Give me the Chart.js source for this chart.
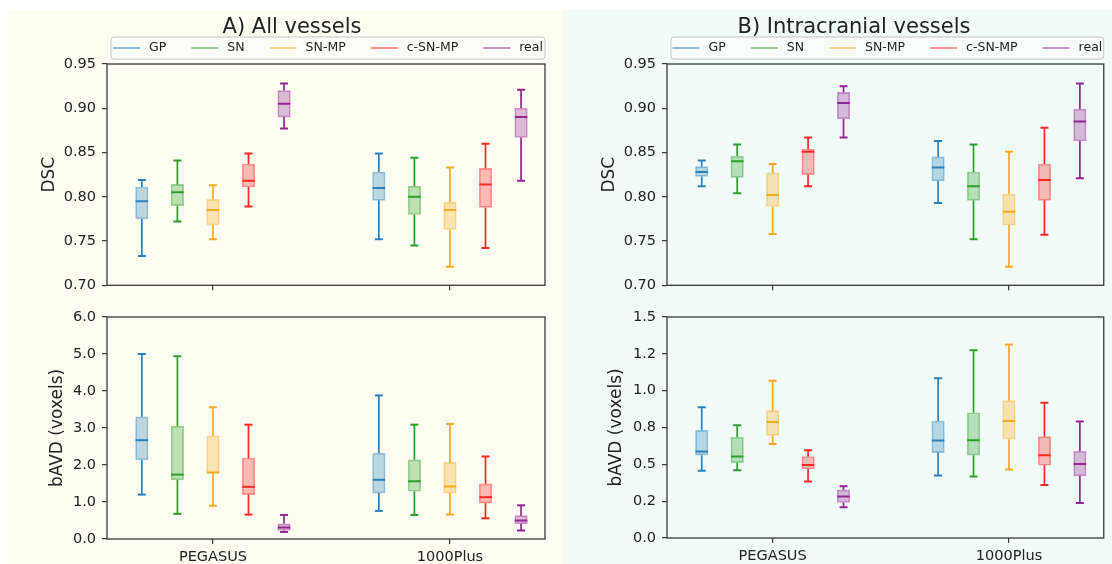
<!DOCTYPE html>
<html>
<head>
<meta charset="utf-8">
<script src="https://cdn.jsdelivr.net/npm/chart.js@4.4.1/dist/chart.umd.min.js"></script>
<style>
  body { margin: 0; background: #fff; }
  #wrap { position: relative; width: 1112px; height: 564px; overflow: hidden; }
  .bg { position: absolute; top: 10px; height: 554px; }
  #bgA { left: 8px; width: 555px; background: #fdfdf1; }
  #bgB { left: 563px; width: 549px; background: #f1fbf7; }
  canvas { position: absolute; }
</style>
</head>
<body>
<div id="wrap">
  <div class="bg" id="bgA"></div>
  <div class="bg" id="bgB"></div>
  <canvas id="c1" width="556" height="300" style="left:0;top:0"></canvas>
  <canvas id="c2" width="556" height="264" style="left:0;top:300px"></canvas>
  <canvas id="c3" width="556" height="300" style="left:556px;top:0"></canvas>
  <canvas id="c4" width="556" height="264" style="left:556px;top:300px"></canvas>
</div>
<script>
const groups = ["PEGASUS", "1000Plus"];
const series = ["GP", "SN", "SN-MP", "c-SN-MP", "real"];
const colors = ["#2a80bd", "#2c9e2c", "#ffa81a", "#ff2626", "#922592"];

// five-number summaries [min, q1, median, q3, max], PEGASUS then 1000Plus
const dscAll = [
  [[0.733, 0.775, 0.795, 0.811, 0.819], [0.752, 0.796, 0.810, 0.828, 0.849]],
  [[0.772, 0.790, 0.805, 0.814, 0.841], [0.745, 0.780, 0.800, 0.812, 0.844]],
  [[0.752, 0.768, 0.785, 0.797, 0.813], [0.721, 0.763, 0.785, 0.794, 0.833]],
  [[0.789, 0.811, 0.818, 0.837, 0.849], [0.742, 0.788, 0.814, 0.832, 0.860]],
  [[0.877, 0.890, 0.905, 0.920, 0.928], [0.818, 0.867, 0.890, 0.900, 0.921]]
];
const bavdAll = [
  [[1.20, 2.14, 2.67, 3.30, 5.00], [0.76, 1.24, 1.60, 2.32, 3.88]],
  [[0.68, 1.60, 1.74, 3.05, 4.94], [0.65, 1.29, 1.56, 2.14, 3.09]],
  [[0.90, 1.77, 1.80, 2.79, 3.56], [0.66, 1.24, 1.42, 2.07, 3.11]],
  [[0.66, 1.20, 1.41, 2.19, 3.09], [0.56, 0.97, 1.13, 1.49, 2.23]],
  [[0.19, 0.23, 0.31, 0.41, 0.65], [0.23, 0.41, 0.50, 0.63, 0.91]]
];
const dscIc = [
  [[0.812, 0.823, 0.828, 0.834, 0.841], [0.793, 0.818, 0.833, 0.845, 0.863]],
  [[0.804, 0.822, 0.840, 0.846, 0.859], [0.752, 0.796, 0.812, 0.828, 0.859]],
  [[0.758, 0.789, 0.802, 0.827, 0.837], [0.721, 0.768, 0.783, 0.803, 0.851]],
  [[0.812, 0.825, 0.851, 0.854, 0.867], [0.757, 0.796, 0.819, 0.837, 0.878]],
  [[0.867, 0.888, 0.906, 0.918, 0.925], [0.821, 0.863, 0.885, 0.899, 0.928]]
];
const bavdIc = [
  [[0.456, 0.562, 0.587, 0.731, 0.887], [0.424, 0.580, 0.661, 0.794, 1.085]],
  [[0.460, 0.512, 0.553, 0.684, 0.765], [0.417, 0.562, 0.663, 0.850, 1.275]],
  [[0.638, 0.697, 0.787, 0.864, 1.067], [0.465, 0.670, 0.794, 0.932, 1.313]],
  [[0.384, 0.469, 0.496, 0.553, 0.596], [0.359, 0.494, 0.562, 0.688, 0.918]],
  [[0.208, 0.241, 0.282, 0.327, 0.352], [0.237, 0.422, 0.503, 0.589, 0.790]]
];

const dscTickValues = [0.70, 0.75, 0.80, 0.85, 0.90, 0.95];
const dscTickLabels = ["0.70", "0.75", "0.80", "0.85", "0.90", "0.95"];
const bavdAllTickValues = [0, 1, 2, 3, 4, 5, 6];
const bavdAllTickLabels = ["0.0", "1.0", "2.0", "3.0", "4.0", "5.0", "6.0"];
const bavdIcTickValues = [0, 0.25, 0.5, 0.75, 1.0, 1.25, 1.5];
const bavdIcTickLabels = ["0.0", "0.2", "0.5", "0.8", "1.0", "1.2", "1.5"];

const offsets = [-0.3, -0.15, 0, 0.15, 0.3];
const FONT = "DejaVu Sans";
const TEXT = "#222";
const AXIS = "#3a3a3a";

function rgba(hex, a) {
  const n = parseInt(hex.slice(1), 16);
  return `rgba(${n >> 16}, ${(n >> 8) & 255}, ${n & 255}, ${a})`;
}

function buildDatasets(stats) {
  const ds = [];
  series.forEach((name, s) => {
    const c = colors[s];
    const pts = stats[s].map((v, g) => ({ x: g + offsets[s], v }));
    ds.push({
      type: "bar", label: name + " whiskers",
      data: pts.map(p => ({ x: p.x, y: [p.v[0], p.v[1]] }))
        .concat(pts.map(p => ({ x: p.x, y: [p.v[3], p.v[4]] }))),
      backgroundColor: c, borderWidth: 0, barThickness: 1.7, inflateAmount: 0,
      grouped: false, order: 3
    });
    ds.push({
      type: "bar", label: name,
      data: pts.map(p => ({ x: p.x, y: [p.v[1], p.v[3]] })),
      backgroundColor: rgba(c, 0.3), borderColor: rgba(c, 0.45), borderWidth: 1,
      borderSkipped: false, barThickness: 12.5, grouped: false, order: 2
    });
    ds.push({
      type: "scatter", label: name + " caps",
      data: pts.map(p => ({ x: p.x, y: p.v[0] })).concat(pts.map(p => ({ x: p.x, y: p.v[4] }))),
      pointStyle: "line", pointRadius: 4, pointBorderColor: c, pointBorderWidth: 2, order: 1
    });
    ds.push({
      type: "scatter", label: name + " median",
      data: pts.map(p => ({ x: p.x, y: p.v[2] })),
      pointStyle: "line", pointRadius: 6.25, pointBorderColor: c, pointBorderWidth: 2, order: 0
    });
  });
  return ds;
}

const frame = {
  id: "frame",
  afterDatasetsDraw(chart) {
    const { ctx, chartArea: a } = chart;
    ctx.save();
    ctx.strokeStyle = AXIS;
    ctx.lineWidth = 1.3;
    ctx.strokeRect(a.left, a.top, a.right - a.left, a.bottom - a.top);
    ctx.restore();
  }
};

// legend box above the plot area, like the matplotlib one
const boxLegend = {
  id: "boxLegend",
  afterDraw(chart, args, opts) {
    if (!opts.show) return;
    const { ctx, chartArea: a } = chart;
    ctx.save();
    ctx.font = `12.5px "${FONT}"`;
    const widths = series.map(s => ctx.measureText(s).width);
    const lineLen = 27, gap = 9, itemGap = 25;
    const total = widths.reduce((t, w) => t + lineLen + gap + w, 0) + itemGap * (series.length - 1);
    const left = a.left + 4, right = a.right, top = a.top - 27, bottom = a.top - 5;
    ctx.beginPath();
    ctx.roundRect(left, top, right - left, bottom - top, 3);
    ctx.fillStyle = "rgba(255,255,255,0.6)";
    ctx.fill();
    ctx.strokeStyle = "#c4c4c4";
    ctx.lineWidth = 1;
    ctx.stroke();
    let x = (left + right) / 2 - total / 2;
    const y = (top + bottom) / 2;
    series.forEach((s, i) => {
      ctx.strokeStyle = rgba(colors[i], 0.5);
      ctx.lineWidth = 2;
      ctx.beginPath();
      ctx.moveTo(x, y);
      ctx.lineTo(x + lineLen, y);
      ctx.stroke();
      ctx.fillStyle = TEXT;
      ctx.textBaseline = "middle";
      ctx.fillText(s, x + lineLen + gap, y);
      x += lineLen + gap + widths[i] + itemGap;
    });
    ctx.restore();
  }
};

function makeChart(p) {
  return new Chart(document.getElementById(p.id), {
    type: "bar",
    data: { datasets: buildDatasets(p.stats) },
    options: {
      responsive: false,
      animation: false,
      events: [],
      layout: { padding: p.pad },
      plugins: {
        legend: { display: false },
        tooltip: { enabled: false },
        title: {
          display: !!p.title, text: p.title,
          font: { family: FONT, size: 21, weight: "normal" }, color: TEXT,
          padding: { top: 14.6, bottom: 24.2 }
        },
        boxLegend: { show: !!p.title }
      },
      scales: {
        x: {
          type: "linear", min: -0.447, max: 1.401, offset: false,
          afterBuildTicks: s => { s.ticks = groups.map((g, i) => ({ value: i })); },
          afterFit: s => { s.height = p.H; },
          ticks: {
            display: p.showX, autoSkip: false, maxRotation: 0, padding: 5,
            callback: (v, i) => groups[i],
            font: { family: FONT, size: 14.5 }, color: TEXT
          },
          grid: { offset: false, drawOnChartArea: false, tickLength: 5, color: AXIS, lineWidth: 1.2 },
          border: { display: false }
        },
        y: {
          min: p.yMin, max: p.yMax,
          afterBuildTicks: s => { s.ticks = p.tv.map(v => ({ value: v })); },
          afterFit: s => { s.width = p.W; },
          ticks: {
            padding: 6, callback: (v, i) => p.tl[i],
            font: { family: FONT, size: 14.5 }, color: TEXT
          },
          grid: { drawOnChartArea: false, tickLength: 5, color: AXIS, lineWidth: 1.2 },
          border: { display: false },
          title: {
            display: true, text: p.yTitle, color: TEXT,
            font: { family: FONT, size: 17 }, padding: { top: p.yTitlePad, bottom: 0 }
          }
        }
      }
    },
    plugins: [frame, boxLegend]
  });
}

makeChart({ id: "c1", stats: dscAll, yMin: 0.70, yMax: 0.95, tv: dscTickValues, tl: dscTickLabels,
  yTitle: "DSC", title: "A) All vessels", pad: { left: 39, right: 11, top: 0, bottom: 3 },
  W: 68, H: 10, yTitlePad: 0, showX: false });
makeChart({ id: "c2", stats: bavdAll, yMin: 0, yMax: 6, tv: bavdAllTickValues, tl: bavdAllTickLabels,
  yTitle: "bAVD (voxels)", title: null, pad: { left: 39, right: 11, top: 17, bottom: 0 },
  W: 68, H: 25, yTitlePad: 8, showX: true });
makeChart({ id: "c3", stats: dscIc, yMin: 0.70, yMax: 0.95, tv: dscTickValues, tl: dscTickLabels,
  yTitle: "DSC", title: "B) Intracranial vessels", pad: { left: 47, right: 7, top: 0, bottom: 4 },
  W: 64, H: 10, yTitlePad: -4, showX: false });
makeChart({ id: "c4", stats: bavdIc, yMin: 0, yMax: 1.5, tv: bavdIcTickValues, tl: bavdIcTickLabels,
  yTitle: "bAVD (voxels)", title: null, pad: { left: 47, right: 7, top: 17, bottom: 1 },
  W: 64, H: 25, yTitlePad: 3.3, showX: true });
</script>
</body>
</html>
